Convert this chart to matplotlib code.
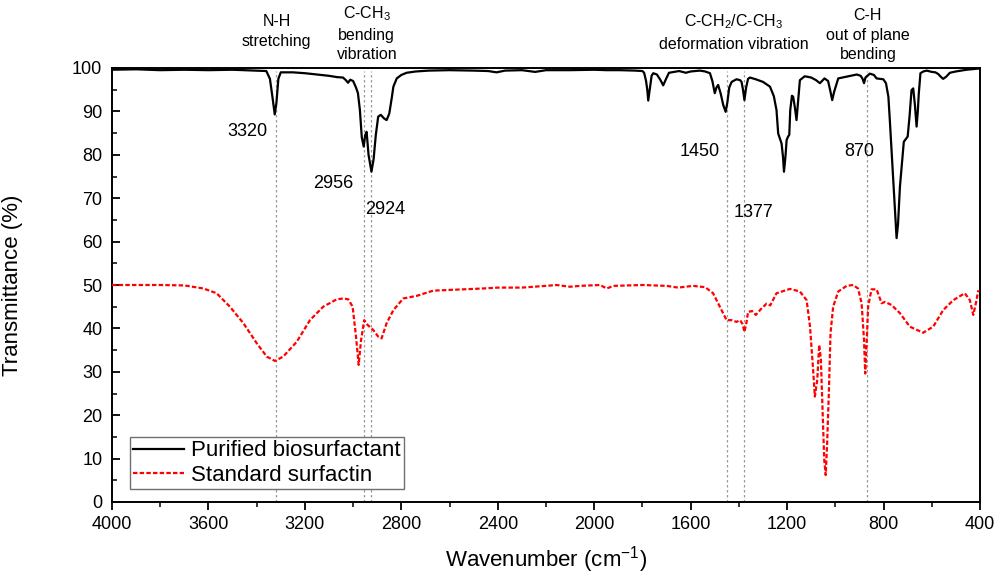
import matplotlib
matplotlib.use("Agg")
import matplotlib.pyplot as plt
from matplotlib.ticker import MultipleLocator

plt.rcParams['font.family'] = ['Liberation Sans', 'DejaVu Sans']
plt.rcParams['mathtext.default'] = 'regular'

# ---- data: Purified biosurfactant (black) ----
bio_wn = [4000, 3900, 3800, 3700, 3600, 3500, 3400, 3360, 3345, 3335, 3325, 3318, 3310, 3300,
          3250, 3200, 3150, 3100, 3067, 3042, 3030, 3021, 3012, 3000, 2988, 2980, 2972, 2964,
          2956, 2950, 2944, 2936, 2924, 2915, 2906, 2896, 2885, 2872, 2861, 2850, 2840, 2833,
          2819, 2800, 2778, 2740, 2686, 2600, 2500, 2440, 2405, 2370, 2300, 2245, 2200, 2100,
          2000, 1950, 1893, 1830, 1800, 1793, 1785, 1780, 1776, 1770, 1762, 1755, 1740, 1725,
          1714, 1702, 1690, 1668, 1648, 1620, 1600, 1562, 1540, 1520, 1510, 1500, 1493, 1486,
          1475, 1465, 1455, 1448, 1440, 1430, 1410, 1395, 1389, 1383, 1377, 1370, 1362, 1354,
          1330, 1300, 1271, 1255, 1244, 1237, 1223, 1217, 1213, 1207, 1202, 1196, 1191, 1187,
          1180, 1175, 1168, 1161, 1155, 1147, 1127, 1100, 1080, 1064, 1045, 1030, 1020, 1013,
          1005, 988, 953, 911, 895, 887, 881, 875, 857, 840, 829, 801, 790, 780, 774, 767,
          758, 752, 746, 740, 732, 724, 716, 708, 700, 692, 684, 677, 670, 663, 658, 654,
          647, 635, 621, 600, 585, 573, 563, 553, 540, 525, 500, 456, 420, 400]
bio_t = [99.6, 99.7, 99.5, 99.6, 99.5, 99.6, 99.4, 99.3, 97.5, 93.5, 89.3, 92.0, 97.5, 99.0,
         99.0, 98.8, 98.5, 98.2, 97.9, 97.8, 97.2, 96.6, 97.3, 97.0, 95.5, 94.2, 90.4, 84.0,
         81.9, 84.5, 85.3, 80.0, 76.1, 79.0, 84.5, 88.8, 89.2, 88.4, 88.0, 89.5, 93.0, 95.7,
         97.6, 98.4, 98.9, 99.2, 99.4, 99.5, 99.4, 99.3, 99.0, 99.4, 99.5, 99.1, 99.5, 99.5,
         99.6, 99.5, 99.5, 99.4, 99.3, 98.9, 97.0, 95.0, 92.5, 95.0, 98.2, 98.8, 98.5, 97.2,
         96.0, 97.5, 98.9, 99.1, 99.3, 98.9, 99.2, 99.4, 99.2, 98.8, 97.0, 94.2, 95.5, 96.1,
         94.0, 91.5, 89.9, 92.0, 95.5, 96.8, 97.4, 97.2, 96.8, 95.0, 92.6, 95.5, 97.5, 97.8,
         97.4, 96.8, 95.7, 93.5, 90.3, 84.9, 82.6, 79.5, 76.1, 79.5, 83.4, 84.2, 84.6, 90.3,
         93.6, 93.4, 91.0, 88.0, 92.0, 97.2, 98.1, 97.8, 97.2, 96.5, 97.6, 97.0, 94.5, 92.6,
         94.5, 97.6, 98.0, 98.5, 98.2, 97.5, 96.5, 97.8, 98.7, 98.4, 97.6, 97.4, 96.5, 93.4,
         88.0, 81.1, 72.0, 66.0, 60.8, 64.0, 72.7, 78.0, 83.0, 83.6, 84.2, 89.0, 94.9, 95.3,
         91.5, 86.5, 90.0, 94.0, 98.8, 99.2, 99.4, 99.1, 99.0, 98.6, 98.0, 97.5, 98.0, 98.9,
         99.2, 99.6, 99.8, 99.9]

# ---- data: Standard surfactin (red dashed) ----
std_wn = [4000, 3900, 3800, 3700, 3621, 3566, 3511, 3455, 3400, 3358, 3324, 3290, 3234, 3179,
          3124, 3068, 3040, 3020, 3002, 2988, 2977, 2967, 2954, 2940, 2916, 2896, 2882, 2861,
          2833, 2792, 2736, 2668, 2543, 2460, 2400, 2300, 2200, 2156, 2100, 2059, 1976, 1948,
          1920, 1800, 1700, 1652, 1590, 1540, 1507, 1479, 1451, 1430, 1410, 1395, 1385, 1377,
          1368, 1362, 1345, 1330, 1306, 1285, 1270, 1244, 1188, 1147, 1119, 1105, 1092, 1085,
          1075, 1067, 1060, 1053, 1046, 1040, 1034, 1027, 1020, 1009, 988, 953, 926, 906, 891,
          881, 876, 870, 864, 850, 829, 808, 794, 767, 732, 691, 636, 594, 553, 511, 463, 442,
          428, 417, 407]
std_t = [50.0, 50.0, 50.0, 49.9, 49.2, 48.1, 45.0, 41.2, 36.6, 33.5, 32.5, 33.5, 36.9, 41.9,
         45.0, 46.7, 46.9, 46.7, 45.0, 38.1, 31.6, 37.3, 41.9, 40.8, 39.6, 38.1, 37.7, 41.2,
         44.2, 46.9, 47.5, 48.7, 49.0, 49.2, 49.4, 49.4, 49.8, 50.0, 49.6, 49.8, 50.0, 49.2,
         49.8, 50.0, 49.8, 49.4, 49.8, 49.5, 48.1, 45.0, 41.9, 41.9, 41.5, 41.9, 41.0, 39.2,
         41.5, 43.8, 44.0, 43.1, 44.6, 45.7, 45.3, 48.1, 49.1, 48.5, 46.5, 40.4, 30.4, 24.3,
         28.1, 36.2, 33.0, 21.2, 9.7, 6.2, 13.5, 25.0, 38.9, 45.0, 48.5, 49.8, 50.0, 49.2, 45.8,
         37.3, 29.6, 36.9, 45.0, 49.0, 49.0, 45.8, 46.1, 45.4, 43.5, 40.4, 39.0, 40.4, 44.2,
         46.5, 48.1, 46.5, 43.1, 45.8, 48.8]

# marked peaks
peak_wn = [3320, 2956, 2924, 1450, 1377, 870]
peak_labels = ['3320', '2956', '2924', '1450', '1377', '870']
peak_label_x = [3440, 3083, 2868, 1561, 1338, 901]
peak_label_y = [85.3, 73.5, 67.3, 80.7, 66.7, 80.7]

# group annotations (one entry per text line)
group_lines = ['N-H', 'stretching',
               'C-CH$_3$', 'bending', 'vibration',
               'C-CH$_2$/C-CH$_3$', 'deformation vibration',
               'C-H', 'out of plane', 'bending']
group_x = [3318, 3318, 2943, 2943, 2943, 1422, 1422, 865, 865, 865]
group_y = [110.6, 106.0, 112.6, 107.6, 103.0, 110.6, 105.3, 112.2, 107.6, 103.0]

fig = plt.figure(figsize=(10, 5.76), dpi=100)
ax = fig.add_axes([0.112, 1 - 502 / 576, 0.868, 434 / 576])

for w in peak_wn:
    ax.plot([w, w], [0, 99.3], color='#9a9a9a', lw=0.9, ls=(0, (2, 2)), zorder=1)

ax.plot(bio_wn, bio_t, color='black', lw=1.6, label='Purified biosurfactant', zorder=3)
ax.plot(std_wn, std_t, color='#ff0000', lw=1.6, ls=(0, (2, 1)), label='Standard surfactin', zorder=3)

for lab, x, y in zip(peak_labels, peak_label_x, peak_label_y):
    ax.text(x, y, lab, ha='center', va='center', fontsize=13)

for lab, x, y in zip(group_lines, group_x, group_y):
    ax.text(x, y, lab, ha='center', va='center', fontsize=11.5, clip_on=False)

ax.set_xlim(4000, 400)
ax.set_ylim(0, 100)
ax.xaxis.set_major_locator(MultipleLocator(400))
ax.xaxis.set_minor_locator(MultipleLocator(200))
ax.yaxis.set_major_locator(MultipleLocator(10))
ax.yaxis.set_minor_locator(MultipleLocator(5))
ax.tick_params(axis='x', which='major', direction='out', length=5.8, width=1.3, labelsize=13, pad=4)
ax.tick_params(axis='x', which='minor', direction='out', length=3.6, width=1.1)
ax.tick_params(axis='y', which='major', direction='in', length=6, width=1.3, labelsize=13, pad=7)
ax.tick_params(axis='y', which='minor', direction='in', length=3.5, width=1.1)
for s in ax.spines.values():
    s.set_linewidth(1.4)

ax.set_xlabel('Wavenumber (cm$^{-1}$)', fontsize=16, labelpad=8)
ax.set_ylabel('Transmittance (%)', fontsize=16)
ax.yaxis.set_label_coords(-0.103, 0.5)

leg = ax.legend(loc='lower left', bbox_to_anchor=(0.0207, 0.03), borderaxespad=0,
                fontsize=16, frameon=True, fancybox=False, framealpha=1,
                edgecolor='#707070', handlelength=2.3, handletextpad=0.3,
                borderpad=0.15, labelspacing=0.15)
leg.get_frame().set_linewidth(1.0)

fig.savefig('out.png', dpi=100)
